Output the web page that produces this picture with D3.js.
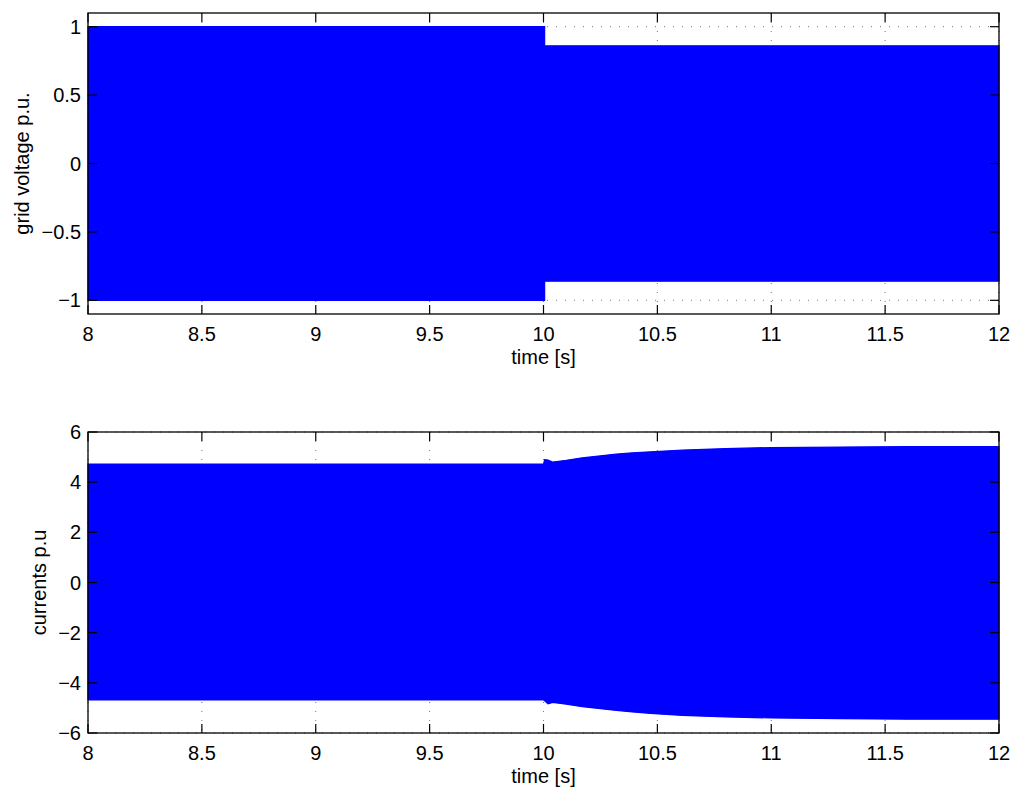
<!DOCTYPE html>
<html><head><meta charset="utf-8">
<script src="https://cdn.jsdelivr.net/npm/d3@7"></script>
<style>
body{margin:0;background:#fff;}
text{font-family:"Liberation Sans",Arial,Helvetica,sans-serif;fill:#000;}
</style></head>
<body><svg id="chart" width="1024" height="805"></svg>
<script>
// ---- data (envelopes) ----
const xTicks = [8, 8.5, 9, 9.5, 10, 10.5, 11, 11.5, 12];
const voltYTicks = [-1, -0.5, 0, 0.5, 1];
const currYTicks = [-6, -4, -2, 0, 2, 4, 6];

const voltTime  = [8, 10.005, 10.005, 12];
const voltUpper = [1.0, 1.0, 0.86, 0.86];
const voltLower = [-1.0, -1.0, -0.86, -0.86];

const currTime  = [8, 10, 10.005, 10.02, 10.04, 10.1, 10.17, 10.25, 10.32, 10.39, 10.47, 10.61, 10.8, 11, 11.3, 11.6, 12];
const currUpper = [4.72, 4.72, 4.90, 4.88, 4.80, 4.87, 4.97, 5.05, 5.12, 5.17, 5.21, 5.28, 5.34, 5.38, 5.40, 5.42, 5.42];
const currLower = [-4.68, -4.68, -4.72, -4.84, -4.78, -4.85, -4.95, -5.03, -5.10, -5.16, -5.22, -5.30, -5.36, -5.40, -5.43, -5.45, -5.45];

const svg = d3.select("#chart");
const fmt = d3.format("");
const FS = 20;

function panel(cfg){
  const g = svg.append("g");
  const x = d3.scaleLinear().domain([8,12]).range([cfg.left, cfg.right]);
  const y = d3.scaleLinear().domain(cfg.ydom).range([cfg.bottom, cfg.top]);
  // grid
  g.append("g").selectAll("line").data(xTicks).join("line")
    .attr("x1", d=>x(d)).attr("x2", d=>x(d)).attr("y1", cfg.top).attr("y2", cfg.bottom)
    .attr("stroke","#777").attr("stroke-width",1).attr("stroke-dasharray","1,8");
  g.append("g").selectAll("line").data(cfg.yTicks).join("line")
    .attr("y1", d=>y(d)).attr("y2", d=>y(d)).attr("x1", cfg.left).attr("x2", cfg.right)
    .attr("stroke","#777").attr("stroke-width",1).attr("stroke-dasharray","1,8");
  // signal envelope
  const pts = cfg.t.map((t,i)=>({t, hi:cfg.hi[i], lo:cfg.lo[i]}));
  const area = d3.area().x(d=>x(d.t)).y0(d=>y(d.lo)).y1(d=>y(d.hi));
  g.append("path").datum(pts).attr("d", area)
    .attr("fill","#0000ff").attr("stroke","#0000ff").attr("stroke-width",1.2);
  // box
  g.append("rect").attr("x",cfg.left).attr("y",cfg.top)
    .attr("width",cfg.right-cfg.left).attr("height",cfg.bottom-cfg.top)
    .attr("fill","none").attr("stroke","#000").attr("stroke-width",1.3);
  const tl = 9;
  // ticks
  const tk = g.append("g").attr("stroke","#000").attr("stroke-width",1.2);
  xTicks.forEach(d=>{
    tk.append("line").attr("x1",x(d)).attr("x2",x(d)).attr("y1",cfg.bottom).attr("y2",cfg.bottom-tl);
    tk.append("line").attr("x1",x(d)).attr("x2",x(d)).attr("y1",cfg.top).attr("y2",cfg.top+tl);
  });
  cfg.yTicks.forEach(d=>{
    tk.append("line").attr("y1",y(d)).attr("y2",y(d)).attr("x1",cfg.left).attr("x2",cfg.left+tl);
    tk.append("line").attr("y1",y(d)).attr("y2",y(d)).attr("x1",cfg.right).attr("x2",cfg.right-tl);
  });
  // labels
  g.append("g").selectAll("text").data(xTicks).join("text")
    .attr("x", d=>x(d)).attr("y", cfg.bottom+27).attr("text-anchor","middle")
    .attr("font-size",FS).text(d=>fmt(d));
  g.append("g").selectAll("text").data(cfg.yTicks).join("text")
    .attr("x", cfg.left-7).attr("y", d=>y(d)+7).attr("text-anchor","end")
    .attr("font-size",FS).text(d=>fmt(d));
  g.append("text").attr("x",(cfg.left+cfg.right)/2).attr("y",cfg.bottom+50)
    .attr("text-anchor","middle").attr("font-size",FS).text("time [s]");
  g.append("text").attr("transform",`translate(${cfg.ylabX},${(cfg.top+cfg.bottom)/2}) rotate(-90)`)
    .attr("text-anchor","middle").attr("font-size",FS).text(cfg.ylabel);
}

panel({left:88,right:999,top:13,bottom:314,ydom:[-1.1,1.1],yTicks:voltYTicks,
  t:voltTime,hi:voltUpper,lo:voltLower,ylabel:"grid voltage p.u.",ylabX:29});
panel({left:88,right:999,top:432,bottom:733,ydom:[-6,6],yTicks:currYTicks,
  t:currTime,hi:currUpper,lo:currLower,ylabel:"currents p.u",ylabX:46});
</script></body></html>
